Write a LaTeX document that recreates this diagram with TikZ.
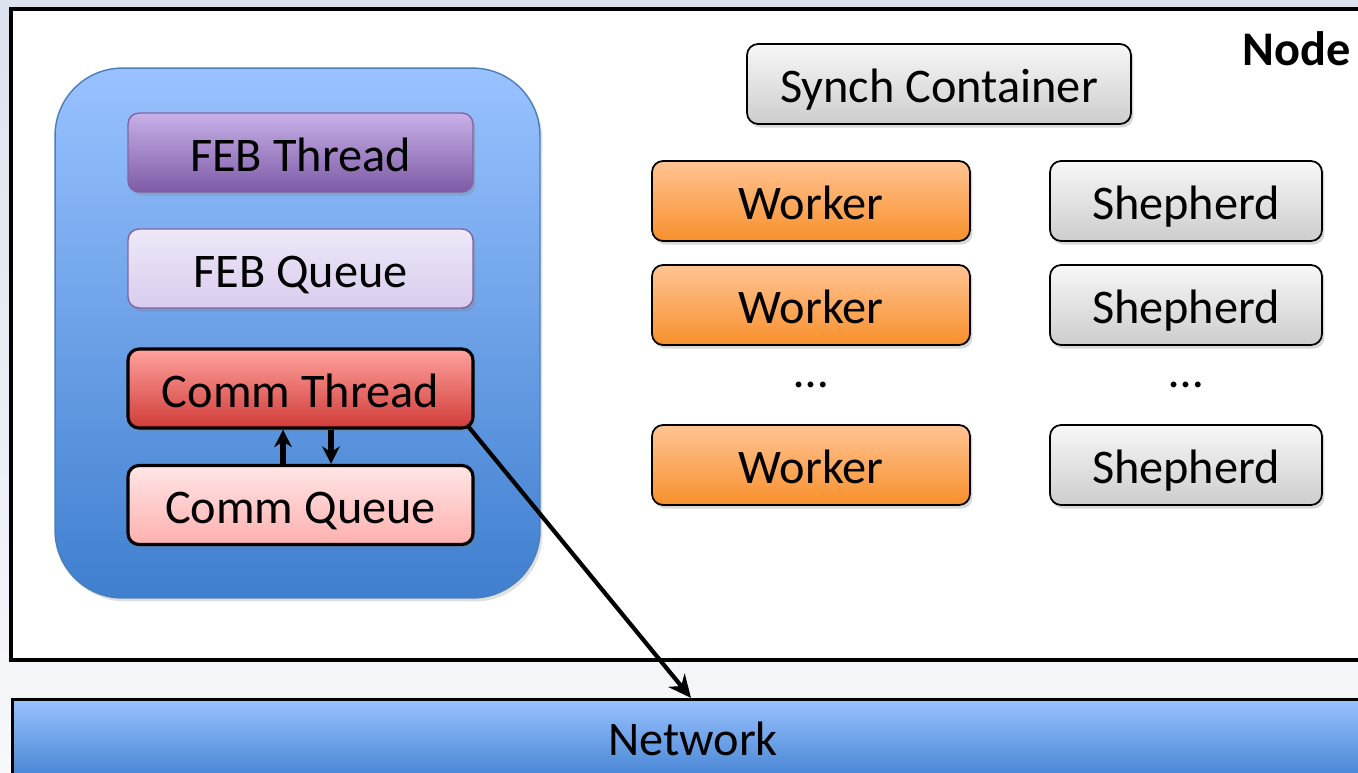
\documentclass[tikz,border=0pt]{standalone}
\usepackage{fontspec}
\setmainfont{Carlito}
\usetikzlibrary{arrows.meta,shadows}
\definecolor{bgtop}{HTML}{DCE2ED}
\definecolor{bgbot}{HTML}{F7F8FB}
\definecolor{bluetop}{HTML}{99C2FF}
\definecolor{bluebot}{HTML}{3F7FCF}
\definecolor{blueline}{HTML}{4A7EBB}
\definecolor{purtop}{HTML}{C8B0E8}
\definecolor{purbot}{HTML}{7D5BA6}
\definecolor{purline}{HTML}{8064A2}
\definecolor{lavtop}{HTML}{EEE8F8}
\definecolor{lavbot}{HTML}{D9CCEE}
\definecolor{redtop}{HTML}{FFA29E}
\definecolor{redbot}{HTML}{D03C38}
\definecolor{pinktop}{HTML}{FFE6E6}
\definecolor{pinkbot}{HTML}{FFB0AE}
\definecolor{orgtop}{HTML}{FFC393}
\definecolor{orgbot}{HTML}{F8902C}
\definecolor{grytop}{HTML}{F7F7F7}
\definecolor{grybot}{HTML}{CDCDCD}
\tikzset{
  lbl/.style={font=\fontsize{27.5}{33}\selectfont, text=black},
  sbox/.style={lbl, rounded corners=0.22cm, inner sep=0pt, text height=21.5pt, text depth=0pt,
    drop shadow={shadow xshift=0.05cm, shadow yshift=-0.07cm, opacity=0.3}},
  leftbox/.style={sbox, minimum width=6.9cm, minimum height=1.58cm},
  workbox/.style={sbox, minimum width=6.36cm, minimum height=1.6cm, draw=black, line width=1pt, top color=orgtop, bottom color=orgbot},
  shepbox/.style={sbox, minimum width=5.44cm, minimum height=1.6cm, draw=black, line width=1pt, top color=grytop, bottom color=grybot},
  thickarrow/.style={line width=3pt, -{Stealth[length=10pt,width=10pt]}},
}
\begin{document}
\begin{tikzpicture}[x=0.02cm,y=-0.02cm]
\useasboundingbox (0,0) rectangle (1358,772);
\clip (0,0) rectangle (1358,772);
\shade[top color=bgtop, bottom color=bgbot] (0,0) rectangle (1358,772);
% node frame
\draw[line width=2.4pt, fill=white] (11,9) rectangle (1380,660);
\node[font=\fontsize{27.5}{33}\selectfont\bfseries, anchor=center] (nodelbl) at (1297,49) {Node};
% network bar
\node[lbl, draw=black, line width=1.8pt, top color=bluetop, bottom color=bluebot,
      minimum width=27.16cm, minimum height=1.7cm, inner sep=0pt] (net) at (691,742) {};
\node[lbl] (nettxt) at (693,739) {Network};
% blue container
\node[rounded corners=1.35cm, draw=blueline, line width=0.8pt, top color=bluetop, bottom color=bluebot,
      minimum width=9.7cm, minimum height=10.6cm, inner sep=0pt,
      drop shadow={shadow xshift=0.05cm, shadow yshift=-0.07cm, opacity=0.25}] (cont) at (297.5,333) {};
\node[leftbox, draw=purline, line width=0.8pt, top color=purtop, bottom color=purbot] (ft) at (300.5,152.5) {FEB Thread};
\node[leftbox, draw=purline, line width=0.8pt, top color=lavtop, bottom color=lavbot] (fq) at (300.5,268.5) {FEB Queue};
\node[leftbox, draw=black, line width=1.8pt, top color=redtop, bottom color=redbot] (ct) at (300.5,388.5) {Comm Thread};
\node[leftbox, draw=black, line width=1.8pt, top color=pinktop, bottom color=pinkbot] (cq) at (300.5,505) {Comm Queue};
\draw[thickarrow] ([xshift=-0.35cm]cq.north) -- ([xshift=-0.35cm]ct.south);
\draw[thickarrow] ([xshift=0.61cm]ct.south) -- ([xshift=0.61cm]cq.north);
\draw[line width=2.4pt, -{Stealth[length=13pt,width=12pt]}] ([xshift=-0.14cm,yshift=0.08cm]ct.south east) -- (net.north);
% right side
\node[sbox, draw=black, line width=1pt, top color=grytop, bottom color=grybot,
      minimum width=7.68cm, minimum height=1.6cm] (sc) at (939,84) {Synch Container};
\node[workbox] (w1) at (811,201) {Worker};
\node[workbox] (w2) at (811,305) {Worker};
\node[workbox] (w3) at (811,465) {Worker};
\node[shepbox] (s1) at (1186,201) {Shepherd};
\node[shepbox] (s2) at (1186,305) {Shepherd};
\node[shepbox] (s3) at (1186,465) {Shepherd};
\node[lbl] (wdots) at (811,385) {\dots};
\node[lbl] (sdots) at (1186,385) {\dots};
\end{tikzpicture}
\end{document}
